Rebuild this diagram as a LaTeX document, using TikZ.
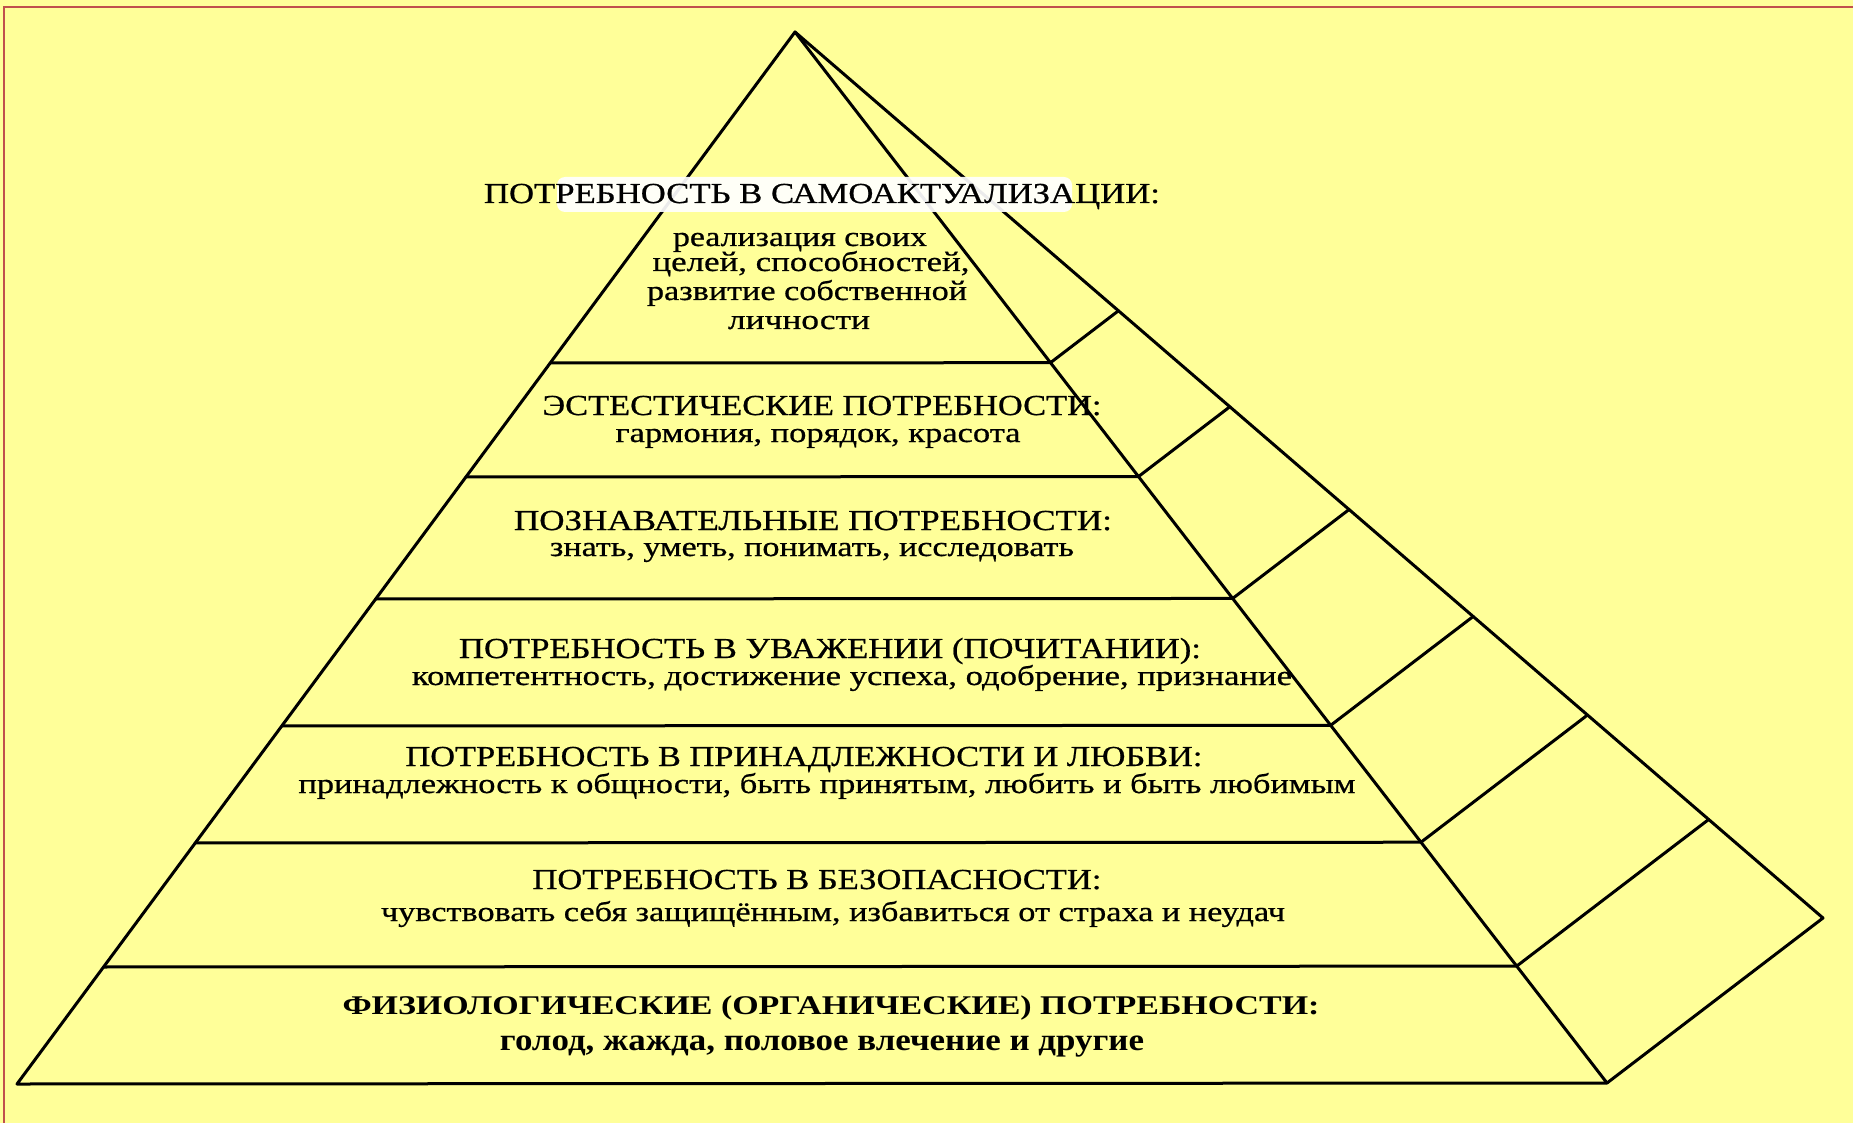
\documentclass[tikz,border=0pt]{standalone}
\usepackage{fontspec}
\setmainfont{Liberation Serif}
\newfontfamily\txtfont{Liberation Serif}[FakeBold=0.6]
\usetikzlibrary{calc}
\definecolor{bg}{HTML}{FFFF99}
\definecolor{framered}{HTML}{C0504D}
\newcommand\fitw[2]{\resizebox{#1}{\height}{#2}}
\begin{document}
\begin{tikzpicture}[x=1pt,y=-1pt,
  edge/.style={line width=3pt, line join=round, line cap=round},
  lbl/.style={inner sep=0pt, anchor=base, font=\txtfont\fontsize{29}{30}\selectfont},
  slbl/.style={lbl, font=\txtfont\fontsize{28}{29}\selectfont},
  blbl/.style={lbl, font=\fontsize{27}{28}\selectfont\bfseries},
  bslbl/.style={lbl, font=\fontsize{31}{32}\selectfont\bfseries}]
\useasboundingbox (0,0) rectangle (1853,1123);
\fill[bg] (0,0) rectangle (1853,1123);
\fill[framered] (3,6) rectangle (1853,8);
\fill[framered] (3,6) rectangle (5,1123);
% pyramid
\coordinate (A) at (795,32);
\coordinate (BL) at (17,1084);
\coordinate (BR) at (1607,1083);
\coordinate (T) at (1823,918);
\draw[edge] (BL) -- (A) -- (BR) -- cycle;
\draw[edge] (A) -- (T) -- (BR);
\foreach \yy [count=\i] in {363,477,599,726,843,967} {
  \pgfmathsetmacro\tt{(\yy-32)/1052}
  \coordinate (L\i) at ($(A)!\tt!(BL)$);
  \coordinate (R\i) at ($(A)!\tt!(BR)$);
  \coordinate (S\i) at ($(A)!\tt!(T)$);
  \draw[edge] (L\i) -- (R\i) -- (S\i);
}
% white highlight behind title
\fill[white, rounded corners=8pt, opacity=0.92] (557,177) rectangle (1072,212);
% texts
\node[lbl] (t1) at (822,203) {\fitw{676pt}{ПОТРЕБНОСТЬ В САМОАКТУАЛИЗАЦИИ:}};
\node[slbl] (t2) at (800,246) {\fitw{254pt}{реализация своих}};
\node[slbl] (t3) at (811,271) {\fitw{317pt}{целей, способностей,}};
\node[slbl] (t4) at (807,300) {\fitw{320pt}{развитие собственной}};
\node[slbl] (t5) at (799,329) {\fitw{142pt}{личности}};
\node[lbl] (t6) at (822,415) {\fitw{559pt}{ЭСТЕСТИЧЕСКИЕ ПОТРЕБНОСТИ:}};
\node[slbl] (t7) at (818,442) {\fitw{405pt}{гармония, порядок, красота}};
\node[lbl] (t8) at (813,530) {\fitw{598pt}{ПОЗНАВАТЕЛЬНЫЕ ПОТРЕБНОСТИ:}};
\node[slbl] (t9) at (812,556) {\fitw{524pt}{знать, уметь, понимать, исследовать}};
\node[lbl] (t10) at (830,658) {\fitw{742pt}{ПОТРЕБНОСТЬ В УВАЖЕНИИ (ПОЧИТАНИИ):}};
\node[slbl] (t11) at (852,685) {\fitw{880pt}{компетентность, достижение успеха, одобрение, признание}};
\node[lbl] (t12) at (804,766) {\fitw{797pt}{ПОТРЕБНОСТЬ В ПРИНАДЛЕЖНОСТИ И ЛЮБВИ:}};
\node[slbl] (t13) at (827,793) {\fitw{1057pt}{принадлежность к общности, быть принятым, любить и быть любимым}};
\node[lbl] (t14) at (817,889) {\fitw{569pt}{ПОТРЕБНОСТЬ В БЕЗОПАСНОСТИ:}};
\node[slbl] (t15) at (833,921) {\fitw{904pt}{чувствовать себя защищённым, избавиться от страха и неудач}};
\node[blbl] (t16) at (831,1014) {\fitw{977pt}{ФИЗИОЛОГИЧЕСКИЕ (ОРГАНИЧЕСКИЕ) ПОТРЕБНОСТИ:}};
\node[bslbl] (t17) at (822,1050) {\fitw{644pt}{голод, жажда, половое влечение и другие}};
\end{tikzpicture}
\end{document}
